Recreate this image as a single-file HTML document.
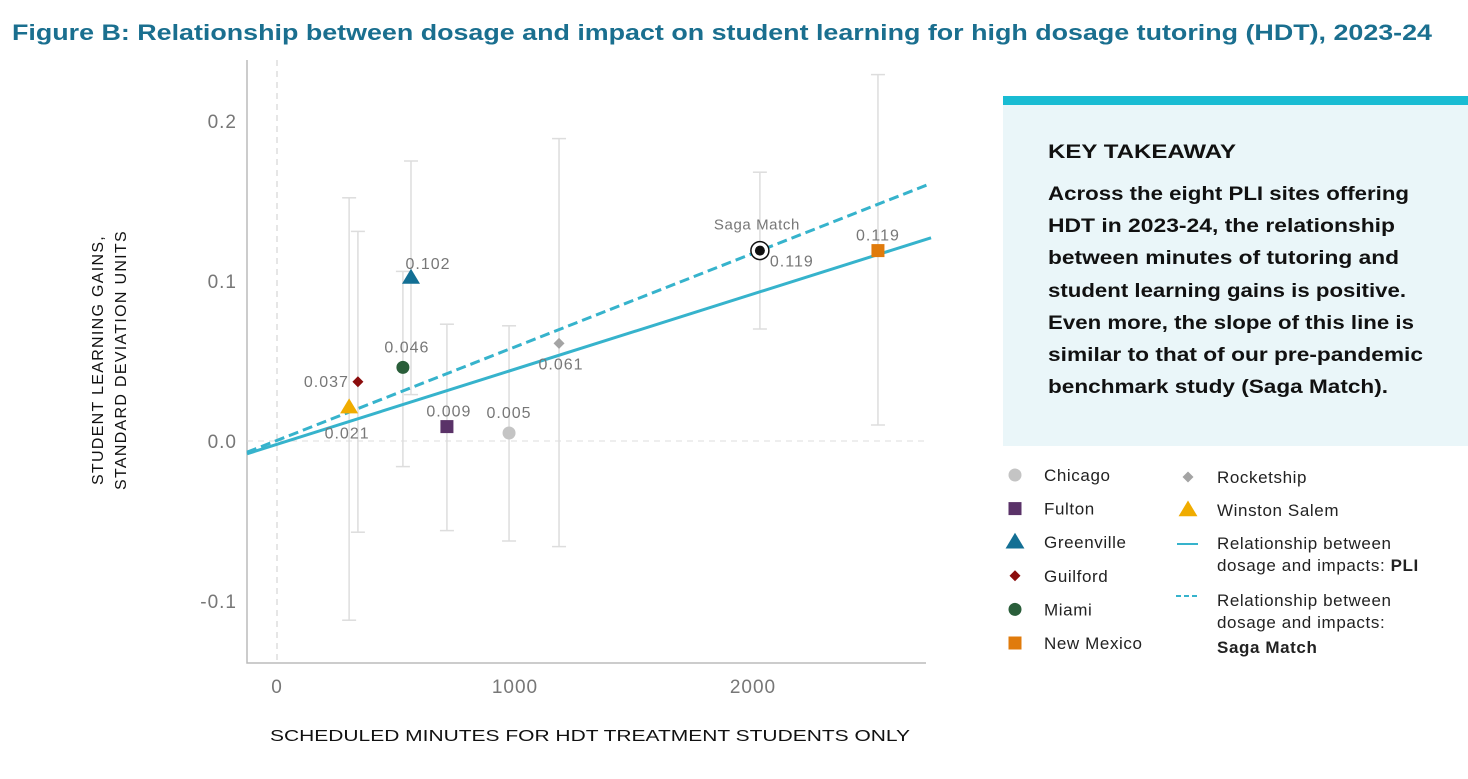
<!DOCTYPE html>
<html><head><meta charset="utf-8"><style>
body{margin:0;background:#fff;width:1468px;height:774px;overflow:hidden;font-family:"Liberation Sans",sans-serif}
</style></head><body>
<svg id="chart" width="1468" height="774" xmlns="http://www.w3.org/2000/svg" font-family="Liberation Sans, sans-serif">
<text x="12" y="40" font-size="22" font-weight="bold" fill="#1a6f8f" textLength="1420" lengthAdjust="spacingAndGlyphs">Figure B: Relationship between dosage and impact on student learning for high dosage tutoring (HDT), 2023-24</text>
<g id="plot"></g>
<text x="270" y="741" font-size="16" fill="#111" textLength="640" lengthAdjust="spacingAndGlyphs">SCHEDULED MINUTES FOR HDT TREATMENT STUDENTS ONLY</text>
<g transform="translate(103,360) rotate(-90)">
<text x="0" y="0" font-size="16" text-anchor="middle" fill="#111" letter-spacing="1.3">STUDENT LEARNING GAINS,</text>
<text x="0" y="23" font-size="16" text-anchor="middle" fill="#111" letter-spacing="1.3">STANDARD DEVIATION UNITS</text>
</g>
<g>
<rect x="1003" y="105" width="465" height="341" fill="#eaf6f9"/>
<rect x="1003" y="96" width="465" height="9" fill="#19bcd3"/>
<text x="1048" y="158" font-size="19" font-weight="bold" fill="#111" textLength="188" lengthAdjust="spacingAndGlyphs">KEY TAKEAWAY</text>
<g font-size="19" font-weight="bold" fill="#111">
<text x="1048" y="200" textLength="361" lengthAdjust="spacingAndGlyphs">Across the eight PLI sites offering</text>
<text x="1048" y="232" textLength="347" lengthAdjust="spacingAndGlyphs">HDT in 2023-24, the relationship</text>
<text x="1048" y="264" textLength="351" lengthAdjust="spacingAndGlyphs">between minutes of tutoring and</text>
<text x="1048" y="297" textLength="358" lengthAdjust="spacingAndGlyphs">student learning gains is positive.</text>
<text x="1048" y="329" textLength="366" lengthAdjust="spacingAndGlyphs">Even more, the slope of this line is</text>
<text x="1048" y="361" textLength="375" lengthAdjust="spacingAndGlyphs">similar to that of our pre-pandemic</text>
<text x="1048" y="393" textLength="340" lengthAdjust="spacingAndGlyphs">benchmark study (Saga Match).</text>
</g>
</g>
<g id="legend" font-size="17" fill="#222" letter-spacing="0.6"></g>
</svg>
<script>
const sites = ["Chicago","Fulton","Greenville","Guilford","Miami","New Mexico","Rocketship","Winston Salem","Saga Match"];
const minutes = [975, 714, 563, 340, 529, 2525, 1185, 303, 2029];
const effects = [0.005, 0.009, 0.102, 0.037, 0.046, 0.119, 0.061, 0.021, 0.119];
const ciLow = [-0.0625, -0.056, 0.029, -0.057, -0.016, 0.010, -0.066, -0.112, 0.070];
const ciHigh = [0.072, 0.073, 0.175, 0.131, 0.106, 0.229, 0.189, 0.152, 0.168];
const pointLabels = ["0.005","0.009","0.102","0.037","0.046","0.119","0.061","0.021","0.119"];
const xTicks = [0, 1000, 2000];
const yTicks = [-0.1, 0.0, 0.1, 0.2];
const yTickLabels = ["-0.1","0.0","0.1","0.2"];
const pliLine = [[-126, -0.008], [2748, 0.127]];
const sagaLine = [[-126, -0.007], [2748, 0.161]];

const styles = {
 "Chicago":{shape:"circle",color:"#c4c4c4",lx:0,ly:-15,anchor:"middle"},
 "Fulton":{shape:"square",color:"#5a3268",lx:2,ly:-10,anchor:"middle"},
 "Greenville":{shape:"triangle",color:"#136f94",lx:17,ly:-9,anchor:"middle"},
 "Guilford":{shape:"diamond",color:"#8b0d0d",lx:-9,ly:5,anchor:"end"},
 "Miami":{shape:"circle",color:"#2a5e3a",lx:4,ly:-15,anchor:"middle"},
 "New Mexico":{shape:"square",color:"#e07b0c",lx:0,ly:-10,anchor:"middle"},
 "Rocketship":{shape:"diamond",color:"#a4a4a4",lx:2,ly:26,anchor:"middle"},
 "Winston Salem":{shape:"triangle",color:"#f0ac00",lx:-2,ly:31,anchor:"middle"},
 "Saga Match":{shape:"target",color:"#111",lx:10,ly:16,anchor:"start"}
};
const NS="http://www.w3.org/2000/svg";
const X0=277, XS=0.238, Y0=441, YS=1600;
const xs=v=>X0+v*XS, ys=v=>Y0-v*YS;
const plot=document.getElementById('plot');
function mk(tag,attrs,parent){const e=document.createElementNS(NS,tag);for(const k in attrs)e.setAttribute(k,attrs[k]);(parent||plot).appendChild(e);return e;}

let ax=mk('path',{d:'M247 60 V663 H926',fill:'none',stroke:'#bbb','stroke-width':1.5});


let zx=mk('line',{x1:xs(0),x2:xs(0),y1:60,y2:663,stroke:'#ccc','stroke-dasharray':'6 5'});


let zy=mk('line',{x1:247,x2:926,y1:ys(0),y2:ys(0),stroke:'#ddd','stroke-dasharray':'6 5'});


xTicks.forEach(t=>{let e=mk('text',{x:xs(t),y:693,'font-size':19,fill:'#777','text-anchor':'middle','letter-spacing':1});e.textContent=t;

});
yTicks.forEach((t,i)=>{let e=mk('text',{x:237,y:ys(t)+7,'font-size':19,fill:'#777','text-anchor':'end','letter-spacing':1});e.textContent=yTickLabels[i];

});

sites.forEach((s,i)=>{const x=xs(minutes[i]);const g=mk('g',{stroke:'#ddd','stroke-width':1.5});


mk('line',{x1:x,x2:x,y1:ys(ciHigh[i]),y2:ys(ciLow[i])},g);
mk('line',{x1:x-7,x2:x+7,y1:ys(ciHigh[i]),y2:ys(ciHigh[i])},g);
mk('line',{x1:x-7,x2:x+7,y1:ys(ciLow[i]),y2:ys(ciLow[i])},g);});

let l1=mk('line',{x1:xs(pliLine[0][0]),y1:ys(pliLine[0][1]),x2:xs(pliLine[1][0]),y2:ys(pliLine[1][1]),stroke:'#36b3cc','stroke-width':3});


let l2=mk('line',{x1:xs(sagaLine[0][0]),y1:ys(sagaLine[0][1]),x2:xs(sagaLine[1][0]),y2:ys(sagaLine[1][1]),stroke:'#36b3cc','stroke-width':3,'stroke-dasharray':'10 5'});



function marker(shape,color,x,y,parent,sz){sz=sz||1;let e;
 if(shape==='circle')e=mk('circle',{cx:x,cy:y,r:6.5*sz,fill:color},parent);
 else if(shape==='square')e=mk('rect',{x:x-6.5*sz,y:y-6.5*sz,width:13*sz,height:13*sz,fill:color},parent);
 else if(shape==='triangle')e=mk('polygon',{points:`${x},${y-9*sz} ${x+9*sz},${y+6*sz} ${x-9*sz},${y+6*sz}`,fill:color},parent);
 else if(shape==='diamond')e=mk('polygon',{points:`${x},${y-5.5*sz} ${x+5.5*sz},${y} ${x},${y+5.5*sz} ${x-5.5*sz},${y}`,fill:color},parent);
 else {e=mk('g',{},parent);mk('circle',{cx:x,cy:y,r:9,fill:'#fff',stroke:'#111','stroke-width':1.5},e);mk('circle',{cx:x,cy:y,r:5,fill:'#111'},e);}
 return e;}

sites.forEach((s,i)=>{const st=styles[s];const x=xs(minutes[i]),y=ys(effects[i]);
 const m=marker(st.shape,st.color,x,y);
 
 
 const t=mk('text',{x:x+st.lx,y:y+st.ly,'font-size':16,fill:'#777','text-anchor':st.anchor,'letter-spacing':1});t.textContent=pointLabels[i];
 
 });
let sl=mk('text',{x:xs(minutes[8])-46,y:ys(effects[8])-21,'font-size':15,fill:'#777','letter-spacing':0.6});sl.textContent='Saga Match';



const lg=document.getElementById('legend');
const leftItems=["Chicago","Fulton","Greenville","Guilford","Miami","New Mexico"];
leftItems.forEach((s,i)=>{const y=475+i*33.6;const st=styles[s];
 const g=mk('g',{},lg);
 
 
 marker(st.shape,st.color,1015,y,g,st.shape==='triangle'?1.05:1);
 const t=mk('text',{x:1044,y:y+6},g);t.textContent=s;});
[["Rocketship",477],["Winston Salem",510]].forEach(([s,y])=>{const st=styles[s];
 const g=mk('g',{},lg);
 
 
 marker(st.shape,st.color,1188,y,g,st.shape==='triangle'?1.05:1);
 const t=mk('text',{x:1217,y:y+6},g);t.textContent=s;});
let g1=mk('g',{},lg);


mk('line',{x1:1177,x2:1198,y1:544,y2:544,stroke:'#36b3cc','stroke-width':2},g1);
mk('text',{x:1217,y:549},g1).textContent='Relationship between';
let t1=mk('text',{x:1217,y:571},g1);t1.innerHTML='dosage and impacts: <tspan font-weight="bold">PLI</tspan>';
let g2=mk('g',{},lg);


mk('line',{x1:1176,x2:1200,y1:596,y2:596,stroke:'#36b3cc','stroke-width':2,'stroke-dasharray':'5 3'},g2);
mk('text',{x:1217,y:606},g2).textContent='Relationship between';
mk('text',{x:1217,y:628},g2).textContent='dosage and impacts:';
mk('text',{x:1217,y:653,'font-weight':'bold'},g2).textContent='Saga Match';
</script>
</body></html>
